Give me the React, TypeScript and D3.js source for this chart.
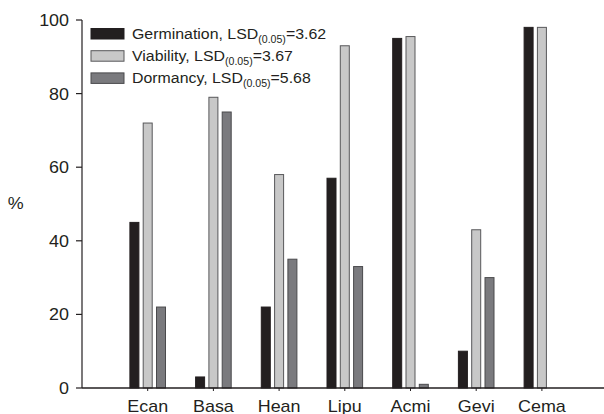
import React from "react";
import * as d3 from "d3";

const categories = ["Ecan", "Basa", "Hean", "Lipu", "Acmi", "Gevi", "Cema"];
const germination = [45, 3, 22, 57, 95, 10, 98];
const viability = [72, 79, 58, 93, 95.5, 43, 98];
const dormancy: (number | null)[] = [22, 75, 35, 33, 1, 30, null];
const yTicks = [0, 20, 40, 60, 80, 100];
const seriesNames = ["Germination", "Viability", "Dormancy"];
const lsdValues = ["3.62", "3.67", "5.68"];

const W = 604;
const H = 414;
const x0 = 82;
const yTop = 20;
const yBottom = 388;
const step = 65.7;
const SX = 1.12;

export default function App() {
  const y = d3.scaleLinear().domain([0, 100]).range([yBottom, yTop]);
  const x = d3
    .scaleBand<string>()
    .domain(categories)
    .range([x0 + step * 0.5, x0 + step * 7.5])
    .paddingInner(0)
    .paddingOuter(0);
  const series = [germination, viability, dormancy];
  const fills = ["#231f20", "#c8c8c8", "#7a7a7e"];
  const strokes = ["#231f20", "#58585a", "#4a4a4d"];
  const off = d3.scaleLinear().domain([0, 2]).range([-13.3, 13.3]);
  const bw = 9;
  const font = "Liberation Sans, Arial, sans-serif";

  return (
    <svg width={W} height={H} style={{ position: "absolute", left: 0, top: 0 }} fontFamily={font}>
      <rect width={W} height={H} fill="#fff" />
      {series.map((vals, si) =>
        vals.map((v, ci) => {
          if (v === null || v === undefined) return null;
          const cx = (x(categories[ci]) as number) + x.bandwidth() / 2 + off(si);
          return (
            <rect
              key={`${si}-${ci}`}
              x={cx - bw / 2}
              y={y(v)}
              width={bw}
              height={yBottom - y(v)}
              fill={fills[si]}
              stroke={strokes[si]}
              strokeWidth={1}
            />
          );
        })
      )}
      <line x1={x0} x2={x0} y1={yTop} y2={yBottom} stroke="#231f20" strokeWidth={1.2} />
      {yTicks.map((t) => (
        <g key={t}>
          <line x1={x0 - 6} x2={x0} y1={y(t)} y2={y(t)} stroke="#231f20" strokeWidth={1.2} />
          <text
            transform={`translate(${x0 - 13},${y(t) + 6}) scale(${SX},1)`}
            textAnchor="end"
            fontSize={16}
            fill="#231f20"
          >
            {t}
          </text>
        </g>
      ))}
      <text transform={`translate(15.8,209) scale(${SX},1)`} textAnchor="middle" fontSize={16} fill="#231f20">
        %
      </text>
      <line x1={x0} x2={W} y1={yBottom} y2={yBottom} stroke="#231f20" strokeWidth={1.5} />
      {categories.map((c) => {
        const cx = (x(c) as number) + x.bandwidth() / 2;
        return (
          <g key={c}>
            <line x1={cx} x2={cx} y1={yBottom} y2={yBottom + 3} stroke="#231f20" strokeWidth={1} />
            <text
              transform={`translate(${cx},411.5) scale(${SX},1)`}
              textAnchor="middle"
              fontSize={16}
              fill="#231f20"
            >
              {c}
            </text>
          </g>
        );
      })}
      {seriesNames.map((n, i) => {
        const ly = 28.5 + i * 22.2;
        return (
          <g key={n}>
            <rect x={91} y={ly} width={33} height={10.5} fill={fills[i]} stroke={strokes[i]} strokeWidth={1} />
            <text transform={`translate(132,${ly + 10.5}) scale(1.06,1)`} fontSize={15} fill="#231f20">
              {n}, LSD
              <tspan fontSize={10} dy={4}>(0.05)</tspan>
              <tspan dy={-4}>={lsdValues[i]}</tspan>
            </text>
          </g>
        );
      })}
    </svg>
  );
}
